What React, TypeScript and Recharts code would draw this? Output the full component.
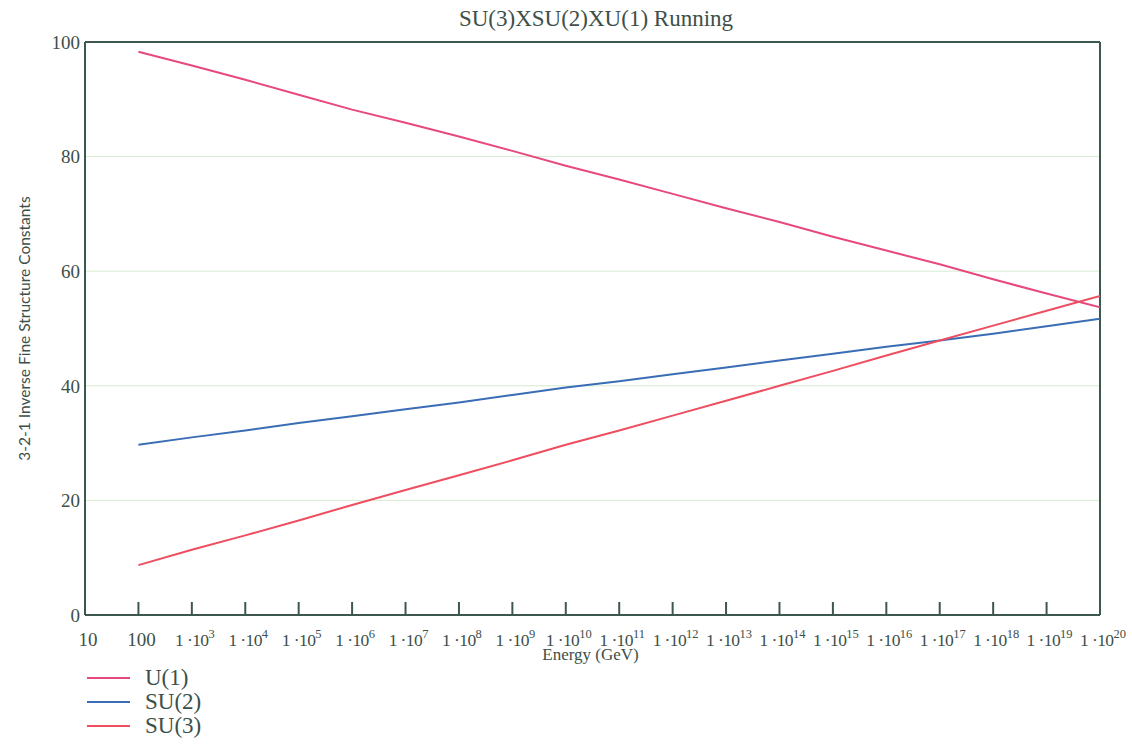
import { LineChart, Line, XAxis, YAxis, CartesianGrid, ReferenceLine } from 'recharts'

// energies in GeV, one point per decade
const ENERGY = [
  1e2, 1e3, 1e4, 1e5, 1e6, 1e7, 1e8, 1e9, 1e10, 1e11,
  1e12, 1e13, 1e14, 1e15, 1e16, 1e17, 1e18, 1e19, 1e20,
]

// inverse couplings
const U1 = [98.3, 95.9, 93.4, 90.8, 88.2, 85.9, 83.5, 81.0, 78.4, 76.0, 73.5, 71.0, 68.6, 66.0, 63.6, 61.2, 58.6, 56.1, 53.7]
const SU2 = [29.7, 31.0, 32.2, 33.5, 34.7, 35.9, 37.1, 38.4, 39.7, 40.8, 42.0, 43.2, 44.4, 45.6, 46.8, 47.9, 49.1, 50.4, 51.7]
const SU3 = [8.7, 11.4, 13.9, 16.5, 19.2, 21.8, 24.4, 27.0, 29.7, 32.2, 34.8, 37.4, 40.0, 42.6, 45.3, 47.9, 50.5, 53.1, 55.7]

const SERIES_NAMES = ['U(1)', 'SU(2)', 'SU(3)']
const SERIES_KEYS = ['u1', 'su2', 'su3']
const SERIES_COLORS = ['#e8497d', '#3a6db5', '#ee4e60']

const X_TICKS = [
  10, 100, 1e3, 1e4, 1e5, 1e6, 1e7, 1e8, 1e9, 1e10, 1e11,
  1e12, 1e13, 1e14, 1e15, 1e16, 1e17, 1e18, 1e19, 1e20,
]
const Y_TICKS = [0, 20, 40, 60, 80, 100]

const data = ENERGY.map((e, i) => ({ energy: e, u1: U1[i], su2: SU2[i], su3: SU3[i] }))

const INK = '#3d4f49'
const AXIS = '#3c5750'
const SERIF = '"Liberation Serif", "Times New Roman", serif'

function BottomTick(props: any) {
  const { x, y, payload } = props
  const exp = Math.round(Math.log10(payload.value))
  const inner = exp > 1 && exp < 20
  return (
    <g>
      {inner && <line x1={x} y1={y} x2={x} y2={y - 13} stroke={AXIS} strokeWidth={2} />}
      <text
        x={x + 3}
        y={y + 31}
        textAnchor="middle"
        fontFamily={SERIF}
        fontSize={exp <= 2 ? 19 : 17.5}
        letterSpacing={exp <= 2 ? 0 : -0.6}
        fill={INK}
      >
        {exp <= 2 ? (
          String(payload.value)
        ) : (
          <>
            <tspan>1 ·10</tspan>
            <tspan dy={-8} fontSize={12.5} letterSpacing={0}>{exp}</tspan>
          </>
        )}
      </text>
    </g>
  )
}

function TopTick(props: any) {
  const { x, y, payload } = props
  const exp = Math.round(Math.log10(payload.value))
  if (exp <= 1 || exp >= 20) return <g />
  return <line x1={x} y1={y} x2={x} y2={y + 13} stroke={AXIS} strokeWidth={2} />
}

function EnergyLabel(props: any) {
  const { viewBox } = props
  return (
    <text
      x={viewBox.x + viewBox.width / 2 - 2}
      y={viewBox.y + 45}
      textAnchor="middle"
      fontFamily={SERIF}
      fontSize={17}
      fill={INK}
    >
      Energy (GeV)
    </text>
  )
}

function YLabel(props: any) {
  const { viewBox } = props
  const cx = 26
  const cy = viewBox.y + viewBox.height / 2
  return (
    <text
      x={cx}
      y={cy}
      transform={`rotate(-90 ${cx} ${cy})`}
      textAnchor="middle"
      dominantBaseline="middle"
      fontFamily='"Lato", "Open Sans", sans-serif'
      fontSize={15.5}
      fill={INK}
    >
      3-2-1 Inverse Fine Structure Constants
    </text>
  )
}

export default function App() {
  return (
    <div style={{ position: 'absolute', left: 0, top: 0, width: 1132, height: 753, background: '#fff' }}>
      <div
        style={{
          position: 'absolute',
          left: 0,
          width: 1192,
          top: 6,
          textAlign: 'center',
          fontFamily: SERIF,
          fontSize: 23,
          color: INK,
        }}
      >
        SU(3)XSU(2)XU(1) Running
      </div>

      <LineChart width={1132} height={753} data={data} margin={{ top: 41, right: 32, bottom: 137, left: 0 }}>
        <CartesianGrid vertical={false} stroke="#d6ecd0" strokeWidth={1} />
        <XAxis
          dataKey="energy"
          type="number"
          scale="log"
          domain={[10, 1e20]}
          ticks={X_TICKS}
          interval={0}
          height={1}
          tickSize={0}
          tickMargin={0}
          tick={BottomTick}
          axisLine={{ stroke: AXIS, strokeWidth: 2 }}
          label={EnergyLabel}
          allowDataOverflow
        />
        <XAxis
          xAxisId="top"
          orientation="top"
          type="number"
          scale="log"
          domain={[10, 1e20]}
          ticks={X_TICKS}
          interval={0}
          height={1}
          tickSize={0}
          tickMargin={0}
          tick={TopTick}
          axisLine={{ stroke: AXIS, strokeWidth: 2 }}
          allowDataOverflow
        />
        <YAxis
          type="number"
          domain={[0, 100]}
          ticks={Y_TICKS}
          interval={0}
          width={85}
          tickLine={false}
          tickSize={0}
          tickMargin={5}
          tick={{ fill: INK, fontSize: 19, fontFamily: SERIF }}
          axisLine={{ stroke: AXIS, strokeWidth: 2 }}
          label={YLabel}
        />
        <ReferenceLine x={1e20} stroke={AXIS} strokeWidth={2} />
        {SERIES_KEYS.map((k, i) => (
          <Line
            key={k}
            dataKey={k}
            name={SERIES_NAMES[i]}
            type="linear"
            stroke={SERIES_COLORS[i]}
            strokeWidth={2}
            dot={false}
            isAnimationActive={false}
          />
        ))}
      </LineChart>

      <div style={{ position: 'absolute', left: 87, top: 666, fontFamily: SERIF, fontSize: 23, color: INK }}>
        {SERIES_NAMES.map((n, i) => (
          <div key={n} style={{ display: 'flex', alignItems: 'center', height: 24 }}>
            <div style={{ width: 43, height: 2, background: SERIES_COLORS[i], marginRight: 15 }} />
            <span>{n}</span>
          </div>
        ))}
      </div>
    </div>
  )
}
